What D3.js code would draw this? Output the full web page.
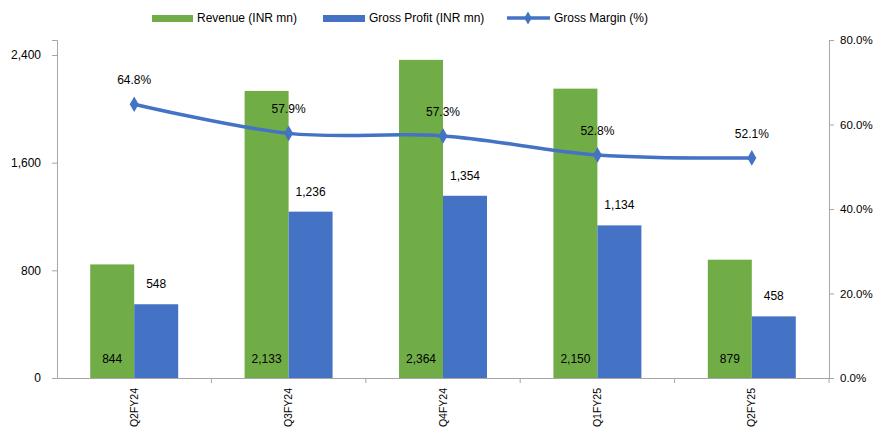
<!DOCTYPE html>
<html>
<head>
<meta charset="utf-8">
<script src="https://cdn.jsdelivr.net/npm/d3@7"></script>
<style>
body { margin: 0; background: #fff; }
text { font-family: "Liberation Sans", Arial, sans-serif; fill: #000; }
</style>
</head>
<body>
<svg id="chart"></svg>
<script>
var width = 874,
height = 428;

const quarters = ["Q2FY24", "Q3FY24", "Q4FY24", "Q1FY25", "Q2FY25"];
const revenue = [844, 2133, 2364, 2150, 879];
const grossProfit = [548, 1236, 1354, 1134, 458];
const grossMargin = [64.8, 57.9, 57.3, 52.8, 52.1];
const leftTicks = [0, 800, 1600, 2400];
const rightTicks = [0, 20, 40, 60, 80];

const green = "#70AD47", blue = "#4472C4", axisCol = "#a6a6a6";

const svg = d3.select("#chart").attr("width", width).attr("height", height);

const plotL = 57, plotR = 829, plotT = 40, plotB = 378;

var x = d3.scaleBand().domain(quarters).range([plotL, plotR]).paddingInner(0).paddingOuter(0);
var xSub = d3.scaleBand().domain(["rev", "gp"]).range([0, x.bandwidth()]).paddingInner(0).paddingOuter(0.755);
// left axis: 2400 sits a bit below the top
var yL = d3.scaleLinear().domain([0, 2400 * (plotB - plotT) / (plotB - 55)]).range([plotB, plotT]);
var yR = d3.scaleLinear().domain([0, 80]).range([plotB, plotT]);

const fmt = d3.format(",");

// bars
var groups = svg.selectAll("g.grp")
    .data(quarters)
    .enter().append("g")
    .attr("transform", (d) => "translate(" + x(d) + ",0)");

groups.append("rect")
    .attr("x", xSub("rev"))
    .attr("width", xSub.bandwidth())
    .attr("y", (d, i) => yL(revenue[i]))
    .attr("height", (d, i) => plotB - yL(revenue[i]))
    .attr("fill", green);

groups.append("rect")
    .attr("x", xSub("gp"))
    .attr("width", xSub.bandwidth())
    .attr("y", (d, i) => yL(grossProfit[i]))
    .attr("height", (d, i) => plotB - yL(grossProfit[i]))
    .attr("fill", blue);

// revenue labels at bar bottom
groups.append("text")
    .attr("x", xSub("rev") + xSub.bandwidth() / 2)
    .attr("y", plotB - 15)
    .attr("text-anchor", "middle")
    .style("font-size", "12px")
    .text((d, i) => fmt(revenue[i]));

// gross profit labels above bar
groups.append("text")
    .attr("x", xSub("gp") + xSub.bandwidth() / 2)
    .attr("y", (d, i) => yL(grossProfit[i]) - 16)
    .attr("text-anchor", "middle")
    .style("font-size", "12px")
    .text((d, i) => fmt(grossProfit[i]));

// axes
var axL = svg.append("g").attr("transform", "translate(" + plotL + ",0)")
    .call(d3.axisLeft(yL).tickValues(leftTicks).tickFormat(fmt).tickSizeOuter(0).tickSize(5));
var axR = svg.append("g").attr("transform", "translate(" + plotR + ",0)")
    .call(d3.axisRight(yR).tickValues(rightTicks).tickFormat((d) => d.toFixed(1) + "%").tickSizeOuter(0).tickSize(5));
var axB = svg.append("g").attr("transform", "translate(0," + plotB + ")")
    .call(d3.axisBottom(x).tickSize(0).tickSizeOuter(0));

[axL, axR, axB].forEach((a) => {
    a.select(".domain").attr("stroke", axisCol);
    a.selectAll(".tick line").attr("stroke", axisCol);
    a.selectAll("text").style("font-size", "12px").attr("fill", "#000").style("font-family", "Liberation Sans, Arial, sans-serif");
});
axL.selectAll(".tick text").attr("x", -16);
axR.selectAll(".tick text").attr("x", 11).style("font-size", "11.5px");

axB.selectAll(".tick text")
    .attr("transform", "rotate(-90)")
    .attr("text-anchor", "end")
    .attr("x", -10)
    .attr("y", 0)
    .attr("dy", "0.35em")
    .style("font-size", "10.5px");

// category boundary ticks
svg.append("g").selectAll("line")
    .data(quarters.slice(1).concat(["end"]))
    .enter().append("line")
    .attr("x1", (d) => d === "end" ? plotR : x(d))
    .attr("x2", (d) => d === "end" ? plotR : x(d))
    .attr("y1", plotB)
    .attr("y2", plotB + 5)
    .attr("stroke", axisCol);

// margin line
var pts = quarters.map((q, i) => [x(q) + x.bandwidth() / 2, yR(grossMargin[i])]);
svg.append("path")
    .attr("d", d3.line().curve(d3.curveCatmullRom.alpha(0.5))(pts))
    .attr("fill", "none")
    .attr("stroke", blue)
    .attr("stroke-width", 3.5);

svg.selectAll("path.mk")
    .data(pts)
    .enter().append("path")
    .attr("class", "mk")
    .attr("d", d3.symbol().type(d3.symbolDiamond).size(70))
    .attr("transform", (d) => "translate(" + d[0] + "," + d[1] + ")")
    .attr("fill", blue);

svg.selectAll("text.ml")
    .data(pts)
    .enter().append("text")
    .attr("class", "ml")
    .attr("x", (d) => d[0])
    .attr("y", (d) => d[1] - 20)
    .attr("text-anchor", "middle")
    .style("font-size", "12px")
    .text((d, i) => grossMargin[i].toFixed(1) + "%");

// legend
var lg = svg.append("g").attr("transform", "translate(0,18)");
lg.append("rect").attr("x", 152).attr("y", -3).attr("width", 41).attr("height", 7).attr("fill", green);
lg.append("text").attr("x", 197).attr("y", 4).style("font-size", "12px").text("Revenue (INR mn)");
lg.append("rect").attr("x", 323).attr("y", -3).attr("width", 42).attr("height", 7).attr("fill", blue);
lg.append("text").attr("x", 369).attr("y", 4).style("font-size", "12px").text("Gross Profit (INR mn)");
lg.append("line").attr("x1", 507).attr("x2", 550).attr("y1", 0).attr("y2", 0).attr("stroke", blue).attr("stroke-width", 3.5);
lg.append("path").attr("d", d3.symbol().type(d3.symbolDiamond).size(50)).attr("transform", "translate(528,0)").attr("fill", blue);
lg.append("text").attr("x", 554).attr("y", 4).style("font-size", "12px").text("Gross Margin (%)");
</script>
</body>
</html>
